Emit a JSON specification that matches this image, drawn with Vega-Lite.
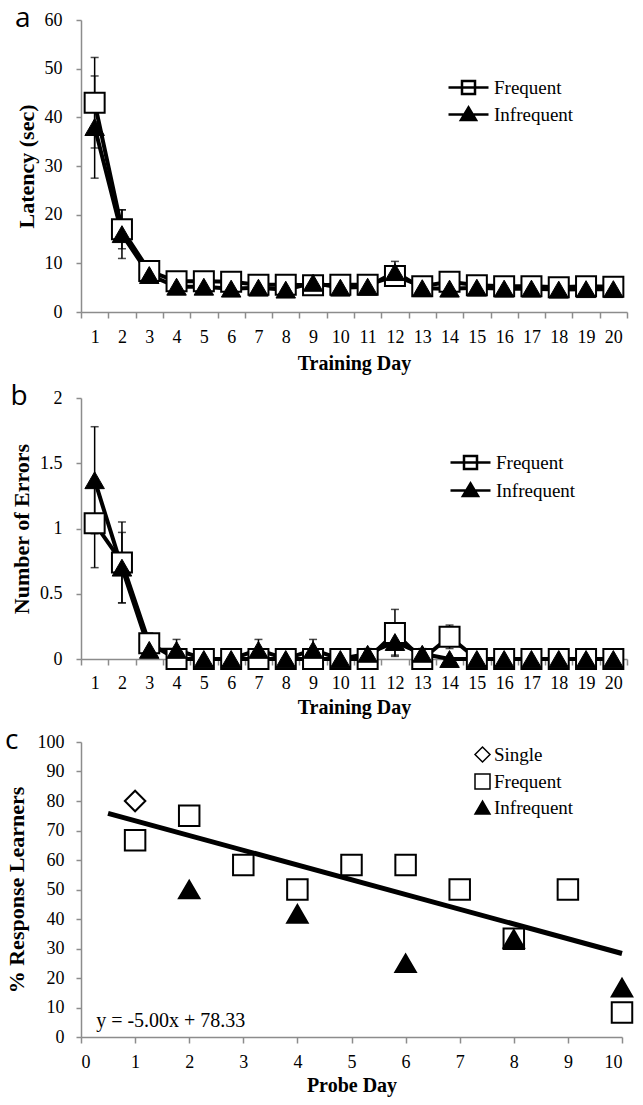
{
  "$schema": "https://vega.github.io/schema/vega-lite/v6.json",
  "background": "white",
  "padding": {"left": 5, "top": 5, "right": 5, "bottom": 5},
  "spacing": 10,
  "resolve": {"scale": {"shape": "independent", "fill": "independent", "stroke": "independent", "x": "independent", "y": "independent"}, "legend": {"shape": "independent", "fill": "independent", "stroke": "independent"}},
  "datasets": {
    "latency": [
      {"day": 1, "group": "Frequent", "value": 43, "err": 9.3},
      {"day": 2, "group": "Frequent", "value": 17, "err": 4},
      {"day": 3, "group": "Frequent", "value": 8.4, "err": 1.2},
      {"day": 4, "group": "Frequent", "value": 6.3, "err": 0.8},
      {"day": 5, "group": "Frequent", "value": 6.3, "err": 0.8},
      {"day": 6, "group": "Frequent", "value": 6.2, "err": 0.8},
      {"day": 7, "group": "Frequent", "value": 5.6, "err": 0.7},
      {"day": 8, "group": "Frequent", "value": 5.6, "err": 0.7},
      {"day": 9, "group": "Frequent", "value": 5.5, "err": 0.7},
      {"day": 10, "group": "Frequent", "value": 5.6, "err": 0.7},
      {"day": 11, "group": "Frequent", "value": 5.6, "err": 0.7},
      {"day": 12, "group": "Frequent", "value": 7.4, "err": 1.8},
      {"day": 13, "group": "Frequent", "value": 5.3, "err": 0.6},
      {"day": 14, "group": "Frequent", "value": 6.2, "err": 0.8},
      {"day": 15, "group": "Frequent", "value": 5.5, "err": 0.6},
      {"day": 16, "group": "Frequent", "value": 5.3, "err": 0.6},
      {"day": 17, "group": "Frequent", "value": 5.3, "err": 0.6},
      {"day": 18, "group": "Frequent", "value": 5.1, "err": 0.6},
      {"day": 19, "group": "Frequent", "value": 5.3, "err": 0.6},
      {"day": 20, "group": "Frequent", "value": 5.2, "err": 0.6},
      {"day": 1, "group": "Infrequent", "value": 38, "err": 10.5},
      {"day": 2, "group": "Infrequent", "value": 16, "err": 5},
      {"day": 3, "group": "Infrequent", "value": 7.6, "err": 1},
      {"day": 4, "group": "Infrequent", "value": 5.2, "err": 0.7},
      {"day": 5, "group": "Infrequent", "value": 5.2, "err": 0.7},
      {"day": 6, "group": "Infrequent", "value": 4.8, "err": 0.7},
      {"day": 7, "group": "Infrequent", "value": 5.0, "err": 0.7},
      {"day": 8, "group": "Infrequent", "value": 4.6, "err": 0.7},
      {"day": 9, "group": "Infrequent", "value": 6.0, "err": 0.8},
      {"day": 10, "group": "Infrequent", "value": 5.0, "err": 0.7},
      {"day": 11, "group": "Infrequent", "value": 5.2, "err": 0.7},
      {"day": 12, "group": "Infrequent", "value": 8.2, "err": 2.2},
      {"day": 13, "group": "Infrequent", "value": 4.9, "err": 0.6},
      {"day": 14, "group": "Infrequent", "value": 4.8, "err": 0.6},
      {"day": 15, "group": "Infrequent", "value": 5.0, "err": 0.6},
      {"day": 16, "group": "Infrequent", "value": 4.8, "err": 0.6},
      {"day": 17, "group": "Infrequent", "value": 4.8, "err": 0.6},
      {"day": 18, "group": "Infrequent", "value": 4.6, "err": 0.6},
      {"day": 19, "group": "Infrequent", "value": 4.7, "err": 0.6},
      {"day": 20, "group": "Infrequent", "value": 4.7, "err": 0.6}
    ],
    "errors": [
      {"day": 1, "group": "Frequent", "value": 1.04, "err": 0.34},
      {"day": 2, "group": "Frequent", "value": 0.74, "err": 0.31},
      {"day": 3, "group": "Frequent", "value": 0.12, "err": 0.08},
      {"day": 4, "group": "Frequent", "value": 0, "err": 0},
      {"day": 5, "group": "Frequent", "value": 0, "err": 0},
      {"day": 6, "group": "Frequent", "value": 0, "err": 0},
      {"day": 7, "group": "Frequent", "value": 0, "err": 0},
      {"day": 8, "group": "Frequent", "value": 0, "err": 0},
      {"day": 9, "group": "Frequent", "value": 0, "err": 0},
      {"day": 10, "group": "Frequent", "value": 0, "err": 0},
      {"day": 11, "group": "Frequent", "value": 0, "err": 0},
      {"day": 12, "group": "Frequent", "value": 0.2, "err": 0.18},
      {"day": 13, "group": "Frequent", "value": 0, "err": 0},
      {"day": 14, "group": "Frequent", "value": 0.17, "err": 0.09},
      {"day": 15, "group": "Frequent", "value": 0, "err": 0},
      {"day": 16, "group": "Frequent", "value": 0, "err": 0},
      {"day": 17, "group": "Frequent", "value": 0, "err": 0},
      {"day": 18, "group": "Frequent", "value": 0, "err": 0},
      {"day": 19, "group": "Frequent", "value": 0, "err": 0},
      {"day": 20, "group": "Frequent", "value": 0, "err": 0},
      {"day": 1, "group": "Infrequent", "value": 1.37, "err": 0.41},
      {"day": 2, "group": "Infrequent", "value": 0.7, "err": 0.27},
      {"day": 3, "group": "Infrequent", "value": 0.07, "err": 0.05},
      {"day": 4, "group": "Infrequent", "value": 0.07, "err": 0.08},
      {"day": 5, "group": "Infrequent", "value": 0, "err": 0},
      {"day": 6, "group": "Infrequent", "value": 0, "err": 0},
      {"day": 7, "group": "Infrequent", "value": 0.07, "err": 0.08},
      {"day": 8, "group": "Infrequent", "value": 0, "err": 0},
      {"day": 9, "group": "Infrequent", "value": 0.07, "err": 0.08},
      {"day": 10, "group": "Infrequent", "value": 0, "err": 0},
      {"day": 11, "group": "Infrequent", "value": 0.04, "err": 0.04},
      {"day": 12, "group": "Infrequent", "value": 0.13, "err": 0.1},
      {"day": 13, "group": "Infrequent", "value": 0.04, "err": 0.04},
      {"day": 14, "group": "Infrequent", "value": 0, "err": 0},
      {"day": 15, "group": "Infrequent", "value": 0, "err": 0},
      {"day": 16, "group": "Infrequent", "value": 0, "err": 0},
      {"day": 17, "group": "Infrequent", "value": 0, "err": 0},
      {"day": 18, "group": "Infrequent", "value": 0, "err": 0},
      {"day": 19, "group": "Infrequent", "value": 0, "err": 0},
      {"day": 20, "group": "Infrequent", "value": 0, "err": 0}
    ],
    "probe": [
      {"day": 1, "group": "Single", "pct": 80},
      {"day": 1, "group": "Frequent", "pct": 66.7},
      {"day": 2, "group": "Frequent", "pct": 75},
      {"day": 3, "group": "Frequent", "pct": 58.3},
      {"day": 4, "group": "Frequent", "pct": 50},
      {"day": 5, "group": "Frequent", "pct": 58.3},
      {"day": 6, "group": "Frequent", "pct": 58.3},
      {"day": 7, "group": "Frequent", "pct": 50},
      {"day": 8, "group": "Frequent", "pct": 33.3},
      {"day": 9, "group": "Frequent", "pct": 50},
      {"day": 10, "group": "Frequent", "pct": 8.3},
      {"day": 2, "group": "Infrequent", "pct": 50},
      {"day": 4, "group": "Infrequent", "pct": 41.7},
      {"day": 6, "group": "Infrequent", "pct": 25},
      {"day": 8, "group": "Infrequent", "pct": 33.3},
      {"day": 10, "group": "Infrequent", "pct": 16.7}
    ],
    "fit": [
      {"day": 0.5, "pct": 75.8},
      {"day": 10, "pct": 28.3}
    ],
    "equation": [
      {"label": "y = -5.00x + 78.33"}
    ]
  },
  "config": {
    "view": {"stroke": null},
    "font": "Liberation Serif, Times New Roman, DejaVu Serif, serif",
    "axis": {
      "domainColor": "#8c8c8c", "tickColor": "#8c8c8c", "domainWidth": 1.5, "tickWidth": 1.5,
      "labelColor": "black", "labelFont": "Liberation Serif, Times New Roman, DejaVu Serif, serif", "labelFontSize": 18,
      "titleColor": "black", "titleFont": "Liberation Serif, Times New Roman, DejaVu Serif, serif", "titleFontWeight": "bold",
      "grid": false, "tickSize": 6, "labelOverlap": false
    },
    "axisY": {"labelPadding": 14, "titlePadding": 6, "tickSize": 5, "titleFontSize": 22},
    "axisX": {"labelPadding": 10, "titlePadding": 7, "labelAngle": 0, "titleFontSize": 20},
    "legend": {"labelFont": "Liberation Serif, Times New Roman, DejaVu Serif, serif", "labelFontSize": 19, "labelColor": "black", "padding": 0},
    "title": {"font": "Open Sans", "fontSize": 28, "fontWeight": "normal", "color": "black", "anchor": "start", "frame": "bounds", "baseline": "bottom", "offset": -22}
  },
  "vconcat": [
    {
      "width": 546, "height": 292,
      "title": {"text": "a"},
      "data": {"name": "latency"},
      "encoding": {
        "x": {"field": "day", "type": "ordinal", "scale": {"type": "band", "paddingInner": 0, "paddingOuter": 0}, "axis": {"title": "Training Day", "tickBand": "extent"}},
        "y": {"field": "value", "type": "quantitative", "scale": {"domain": [0, 60], "nice": false}, "axis": {"title": "Latency (sec)", "values": [0, 10, 20, 30, 40, 50, 60], "labelOverlap": false}}
      },
      "layer": [
        {"mark": {"type": "errorbar", "color": "black", "thickness": 1.5, "ticks": {"size": 8, "thickness": 1.5}}, "encoding": {"yError": {"field": "err"}}},
        {"mark": {"type": "line", "color": "black", "strokeWidth": 4}, "encoding": {"detail": {"field": "group"}}},
        {"transform": [{"filter": "datum.group === 'Frequent'"}],
         "mark": {"type": "point", "shape": "square", "size": 400, "strokeWidth": 2, "stroke": "black", "fill": "white", "filled": true, "opacity": 1}},
        {"transform": [{"filter": "datum.group === 'Infrequent'"}],
         "mark": {"type": "point", "shape": "triangle-up", "size": 380, "strokeWidth": 1, "stroke": "black", "fill": "black", "filled": true, "opacity": 1}},
        {"transform": [{"filter": "false"}],
         "mark": {"type": "point", "size": 400, "strokeWidth": 2.5, "filled": true, "opacity": 1},
         "encoding": {
           "shape": {"field": "group", "type": "nominal", "scale": {"domain": ["Frequent", "Infrequent"], "range": ["M-2,0H2M-0.65,-0.65H0.65V0.65H-0.65Z", "M-2,0H2M0,-0.7L0.75,0.55H-0.75Z"]},
             "legend": {"title": null, "orient": "none", "legendX": 376, "legendY": 56, "symbolSize": 400, "labelOffset": 14, "rowPadding": 3, "symbolStrokeWidth": 2.5}},
           "fill": {"field": "group", "type": "nominal", "scale": {"domain": ["Frequent", "Infrequent"], "range": ["white", "black"]},
             "legend": {"title": null, "orient": "none", "legendX": 376, "legendY": 56, "symbolSize": 400, "labelOffset": 14, "rowPadding": 3, "symbolStrokeWidth": 2.5}},
           "stroke": {"field": "group", "type": "nominal", "scale": {"domain": ["Frequent", "Infrequent"], "range": ["black", "black"]},
             "legend": {"title": null, "orient": "none", "legendX": 376, "legendY": 56, "symbolSize": 400, "labelOffset": 14, "rowPadding": 3, "symbolStrokeWidth": 2.5}}
         }}
      ]
    },
    {
      "width": 546, "height": 261,
      "title": {"text": "b"},
      "data": {"name": "errors"},
      "encoding": {
        "x": {"field": "day", "type": "ordinal", "scale": {"type": "band", "paddingInner": 0, "paddingOuter": 0}, "axis": {"title": "Training Day", "tickBand": "extent", "labelPadding": 9, "titlePadding": 5}},
        "y": {"field": "value", "type": "quantitative", "scale": {"domain": [0, 2], "nice": false}, "axis": {"title": "Number of Errors", "values": [0, 0.5, 1, 1.5, 2], "format": "~g", "labelOverlap": false}}
      },
      "layer": [
        {"mark": {"type": "errorbar", "color": "black", "thickness": 1.5, "ticks": {"size": 8, "thickness": 1.5}}, "encoding": {"yError": {"field": "err"}}},
        {"mark": {"type": "line", "color": "black", "strokeWidth": 4}, "encoding": {"detail": {"field": "group"}}},
        {"transform": [{"filter": "datum.group === 'Frequent'"}],
         "mark": {"type": "point", "shape": "square", "size": 400, "strokeWidth": 2, "stroke": "black", "fill": "white", "filled": true, "opacity": 1}},
        {"transform": [{"filter": "datum.group === 'Infrequent'"}],
         "mark": {"type": "point", "shape": "triangle-up", "size": 380, "strokeWidth": 1, "stroke": "black", "fill": "black", "filled": true, "opacity": 1}},
        {"transform": [{"filter": "false"}],
         "mark": {"type": "point", "size": 400, "strokeWidth": 2.5, "filled": true, "opacity": 1},
         "encoding": {
           "shape": {"field": "group", "type": "nominal", "scale": {"domain": ["Frequent", "Infrequent"], "range": ["M-2,0H2M-0.65,-0.65H0.65V0.65H-0.65Z", "M-2,0H2M0,-0.7L0.75,0.55H-0.75Z"]},
             "legend": {"title": null, "orient": "none", "legendX": 378, "legendY": 53, "symbolSize": 400, "labelOffset": 14, "rowPadding": 4, "symbolStrokeWidth": 2.5}},
           "fill": {"field": "group", "type": "nominal", "scale": {"domain": ["Frequent", "Infrequent"], "range": ["white", "black"]},
             "legend": {"title": null, "orient": "none", "legendX": 378, "legendY": 53, "symbolSize": 400, "labelOffset": 14, "rowPadding": 4, "symbolStrokeWidth": 2.5}},
           "stroke": {"field": "group", "type": "nominal", "scale": {"domain": ["Frequent", "Infrequent"], "range": ["black", "black"]},
             "legend": {"title": null, "orient": "none", "legendX": 378, "legendY": 53, "symbolSize": 400, "labelOffset": 14, "rowPadding": 4, "symbolStrokeWidth": 2.5}}
         }}
      ]
    },
    {
      "width": 541, "height": 295,
      "title": {"text": "c"},
      "layer": [
        {"data": {"name": "fit"}, "mark": {"type": "line", "color": "black", "strokeWidth": 5},
         "encoding": {
           "x": {"field": "day", "type": "quantitative", "scale": {"domain": [0, 10], "nice": false}, "axis": {"title": "Probe Day", "values": [0, 1, 2, 3, 4, 5, 6, 7, 8, 9, 10], "titlePadding": 4}},
           "y": {"field": "pct", "type": "quantitative", "scale": {"domain": [0, 100], "nice": false}, "axis": {"title": "% Response Learners", "values": [0, 10, 20, 30, 40, 50, 60, 70, 80, 90, 100], "labelOverlap": false, "labelPadding": 12, "titlePadding": 9}}
         }},
        {"data": {"name": "probe"},
         "mark": {"type": "point", "size": 420, "strokeWidth": 2, "filled": true, "opacity": 1},
         "encoding": {
           "x": {"field": "day", "type": "quantitative", "scale": {"domain": [0, 10], "nice": false}, "axis": {"title": "Probe Day", "values": [0, 1, 2, 3, 4, 5, 6, 7, 8, 9, 10], "titlePadding": 4}},
           "y": {"field": "pct", "type": "quantitative", "scale": {"domain": [0, 100], "nice": false}, "axis": {"title": "% Response Learners", "values": [0, 10, 20, 30, 40, 50, 60, 70, 80, 90, 100], "labelOverlap": false, "labelPadding": 12, "titlePadding": 9}},
           "shape": {"field": "group", "type": "nominal", "scale": {"domain": ["Single", "Frequent", "Infrequent"], "range": ["diamond", "square", "triangle-up"]},
             "legend": {"title": null, "orient": "none", "legendX": 392, "legendY": 3, "symbolSize": 225, "labelOffset": 2, "rowPadding": 6, "symbolStrokeWidth": 1.5}},
           "fill": {"field": "group", "type": "nominal", "scale": {"domain": ["Single", "Frequent", "Infrequent"], "range": ["white", "white", "black"]},
             "legend": {"title": null, "orient": "none", "legendX": 392, "legendY": 3, "symbolSize": 225, "labelOffset": 2, "rowPadding": 6, "symbolStrokeWidth": 1.5}},
           "stroke": {"field": "group", "type": "nominal", "scale": {"domain": ["Single", "Frequent", "Infrequent"], "range": ["black", "black", "black"]},
             "legend": {"title": null, "orient": "none", "legendX": 392, "legendY": 3, "symbolSize": 225, "labelOffset": 2, "rowPadding": 6, "symbolStrokeWidth": 1.5}}
         }},
        {"data": {"name": "equation"},
         "mark": {"type": "text", "align": "left", "baseline": "middle", "fontSize": 20, "font": "Liberation Serif, Times New Roman, DejaVu Serif, serif", "color": "black"},
         "encoding": {
           "x": {"datum": 0.28, "type": "quantitative", "axis": {"title": "Probe Day", "values": [0, 1, 2, 3, 4, 5, 6, 7, 8, 9, 10], "titlePadding": 4}},
           "y": {"datum": 5.4, "type": "quantitative", "axis": {"title": "% Response Learners", "values": [0, 10, 20, 30, 40, 50, 60, 70, 80, 90, 100], "labelOverlap": false, "labelPadding": 12, "titlePadding": 9}},
           "text": {"field": "label"}
         }}
      ]
    }
  ]
}
